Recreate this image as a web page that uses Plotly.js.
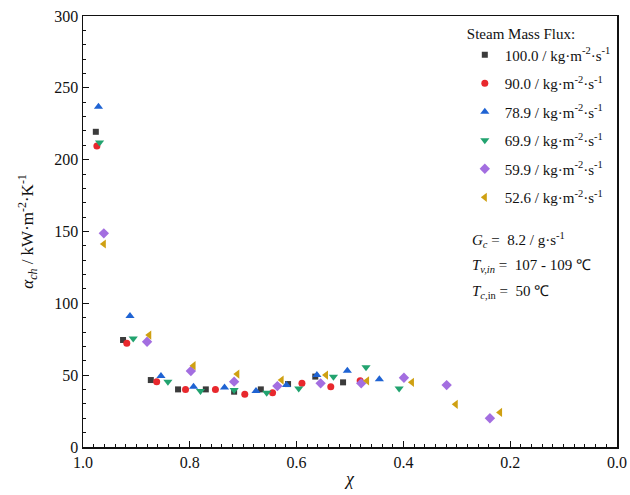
<!DOCTYPE html>
<html>
<head>
<meta charset="utf-8">
<script src="https://cdn.plot.ly/plotly-3.0.1.min.js"></script>
<style>html,body{margin:0;padding:0;background:#fff;}</style>
</head>
<body>
<div id="chart" style="width:630px;height:495px;"></div>
<script>
// Vapor quality (chi) and heat transfer coefficient for each steam mass flux
const names = ["100.0", "90.0", "78.9", "69.9", "59.9", "52.6"];

const x100 = [0.976, 0.925, 0.873, 0.822, 0.770, 0.717, 0.667, 0.616, 0.565, 0.513];
const y100 = [219.4, 74.5, 46.6, 40.1, 40.1, 38.5, 40.1, 43.8, 49.0, 45.0];

const x90 = [0.974, 0.918, 0.862, 0.808, 0.752, 0.697, 0.645, 0.590, 0.536, 0.481];
const y90 = [209.5, 72.2, 45.5, 40.1, 40.1, 36.7, 37.8, 44.3, 42.0, 46.1];

const x789 = [0.971, 0.912, 0.854, 0.793, 0.735, 0.676, 0.619, 0.562, 0.505, 0.445];
const y789 = [236.8, 91.2, 49.4, 42.0, 41.5, 39.0, 43.1, 50.1, 53.1, 47.1];

const x699 = [0.969, 0.906, 0.841, 0.780, 0.717, 0.656, 0.596, 0.531, 0.470, 0.408];
const y699 = [212.0, 75.6, 45.5, 39.0, 39.7, 37.8, 40.8, 48.9, 55.5, 40.8];

const x599 = [0.961, 0.880, 0.798, 0.717, 0.636, 0.555, 0.479, 0.399, 0.319, 0.238];
const y599 = [148.7, 73.3, 52.9, 45.5, 42.4, 44.3, 44.3, 48.2, 43.1, 20.0];

const x526 = [0.961, 0.876, 0.793, 0.711, 0.628, 0.545, 0.468, 0.384, 0.302, 0.219];
const y526 = [141.3, 77.9, 56.6, 50.8, 46.6, 50.1, 46.1, 45.0, 29.7, 24.1];

const xTicks = [1.0, 0.8, 0.6, 0.4, 0.2, 0.0];
const yTicks = [0, 50, 100, 150, 200, 250, 300];

const xs = [x100, x90, x789, x699, x599, x526];
const ys = [y100, y90, y789, y699, y599, y526];
const symbols = ["square", "circle", "triangle-up", "triangle-down", "diamond", "triangle-left"];
const colors = ["#3b3b3b", "#e8282d", "#1f63d3", "#22a36f", "#a36ee0", "#cfa012"];
const sizes = [6, 7, 8, 8, 8, 8];

const FONT = "Times New Roman, Liberation Serif, serif";

const traces = names.map((n, i) => ({
  type: "scatter",
  mode: "markers",
  x: xs[i],
  y: ys[i],
  name: n + " / kg·m<sup>-2</sup>·s<sup>-1</sup>",
  legendgroup: "g" + i,
  marker: {symbol: symbols[i], color: colors[i], size: sizes[i], line: {width: 0}}
}));

const layout = {
  width: 630,
  height: 495,
  margin: {l: 83, r: 13, t: 16, b: 48},
  paper_bgcolor: "#fff",
  plot_bgcolor: "#fff",
  font: {family: FONT, size: 15, color: "#111"},
  showlegend: true,
  legend: {
    x: 0.715, y: 0.993, xanchor: "left", yanchor: "top",
    bgcolor: "rgba(0,0,0,0)",
    font: {family: FONT, size: 15, color: "#111"},
    title: {text: "Steam Mass Flux:", font: {family: FONT, size: 15, color: "#111"}},
    tracegroupgap: 6,
    itemwidth: 30
  },
  xaxis: {
    range: [1.0, 0.0],
    tickvals: xTicks,
    ticktext: xTicks.map(v => v.toFixed(1)),
    ticks: "inside", ticklen: 6, tickwidth: 1.2, tickcolor: "#111",
    minor: {dtick: 0.02, ticks: "inside", ticklen: 3, tickwidth: 1, tickcolor: "#111"},
    showline: true, linewidth: 1.5, linecolor: "#111", mirror: true,
    showgrid: false, zeroline: false,
    tickfont: {family: FONT, size: 16},
    title: {text: "<i>χ</i>", font: {family: FONT, size: 18}, standoff: 2}
  },
  yaxis: {
    range: [0, 300],
    tickvals: yTicks,
    ticks: "inside", ticklen: 6, tickwidth: 1.2, tickcolor: "#111",
    minor: {dtick: 10, ticks: "inside", ticklen: 3, tickwidth: 1, tickcolor: "#111"},
    showline: true, linewidth: 1.5, linecolor: "#111", mirror: true,
    showgrid: false, zeroline: false,
    tickfont: {family: FONT, size: 16},
    title: {text: "<i>α</i><sub><i>ch</i></sub> / kW·m<sup>-2</sup>·K<sup>-1</sup>", font: {family: FONT, size: 17}, standoff: 16}
  },
  annotations: [
    {xref: "paper", yref: "paper", x: 0.725, y: 0.48, xanchor: "left", yanchor: "middle", showarrow: false,
     text: "<i>G</i><sub><i>c</i></sub> =  8.2 / g·s<sup>-1</sup>", font: {family: FONT, size: 15, color: "#111"}},
    {xref: "paper", yref: "paper", x: 0.725, y: 0.42, xanchor: "left", yanchor: "middle", showarrow: false,
     text: "<i>T</i><sub><i>v,in</i></sub> =  107 - 109 ℃", font: {family: FONT, size: 15, color: "#111"}},
    {xref: "paper", yref: "paper", x: 0.725, y: 0.36, xanchor: "left", yanchor: "middle", showarrow: false,
     text: "<i>T</i><sub><i>c</i>,in</sub> =  50 ℃", font: {family: FONT, size: 15, color: "#111"}}
  ]
};

Plotly.newPlot("chart", traces, layout, {displayModeBar: false, staticPlot: true});
</script>
</body>
</html>
